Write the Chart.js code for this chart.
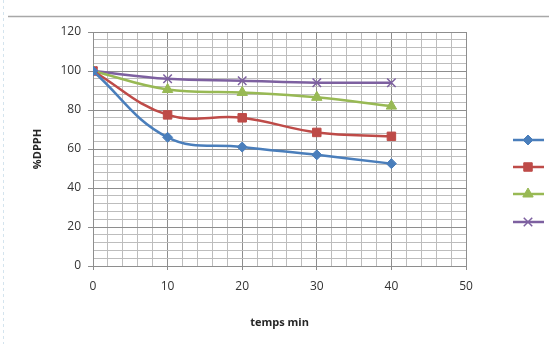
<!DOCTYPE html>
<html>
<head>
<meta charset="utf-8">
<script src="https://cdn.jsdelivr.net/npm/chart.js@4/dist/chart.umd.min.js"></script>
<style>
  html, body { margin: 0; padding: 0; background: #fff; }
  #wrap { width: 549px; height: 344px; position: relative; }
</style>
</head>
<body>
<div id="wrap"><canvas id="dpphChart" width="549" height="344"></canvas></div>
<script>
// temps (min) and %DPPH for each series
const temps = [0, 10, 20, 30, 40];
const serie1 = [100, 66, 61, 57, 52.5];
const serie2 = [100, 77.5, 76, 68.5, 66.5];
const serie3 = [100, 90.5, 89, 86.5, 82];
const serie4 = [100, 96, 95, 94, 94];

const xTicks = [0, 10, 20, 30, 40, 50];
const yTicks = [0, 20, 40, 60, 80, 100, 120];

const colors = ["#4a7ebb", "#be4b48", "#98b954", "#7d60a0"];
const styles = ["rectRot", "rect", "triangle", "crossRot"];
const radii = [5, 6, 6, 6];

function toPoints(values) {
  return temps.map((t, i) => ({ x: t, y: values[i] }));
}

const seriesList = [serie1, serie2, serie3, serie4];

const datasets = seriesList.map((vals, i) => ({
  label: "",
  data: toPoints(vals),
  borderColor: colors[i],
  backgroundColor: colors[i],
  borderWidth: 2.5,
  pointStyle: styles[i],
  pointRadius: radii[i],
  pointBorderWidth: i === 3 ? 1.5 : 1,
  tension: 0.4,
}));

// frame lines and the legend (line + marker, no text)
const decorations = {
  id: "decorations",
  beforeDraw(chart) {
    const ctx = chart.ctx;
    ctx.save();
    ctx.strokeStyle = "#a8a8a8";
    ctx.lineWidth = 1.5;
    ctx.beginPath();
    ctx.moveTo(8, 16.5);
    ctx.lineTo(549, 16.5);
    ctx.stroke();
    ctx.strokeStyle = "#d4e4ee";
    ctx.lineWidth = 1;
    ctx.setLineDash([3, 3]);
    ctx.beginPath();
    ctx.moveTo(3.5, 0);
    ctx.lineTo(3.5, 344);
    ctx.stroke();
    ctx.restore();
  },
  afterDraw(chart) {
    const ctx = chart.ctx;
    const ys = [140, 167, 194, 222];
    ctx.save();
    ys.forEach((y, i) => {
      ctx.strokeStyle = colors[i];
      ctx.lineWidth = 2.5;
      ctx.beginPath();
      ctx.moveTo(513, y);
      ctx.lineTo(544, y);
      ctx.stroke();
      ctx.fillStyle = colors[i];
      ctx.strokeStyle = colors[i];
      ctx.lineWidth = i === 3 ? 1.5 : 1;
      Chart.helpers.drawPoint(ctx, {
        pointStyle: styles[i],
        radius: radii[i],
        rotation: 0,
        borderWidth: ctx.lineWidth,
      }, 528, y);
    });
    ctx.restore();
  },
};

const isMajorX = (v) => v % 10 === 0;
const isMajorY = (v) => v % 20 === 0;

new Chart(document.getElementById("dpphChart"), {
  type: "line",
  data: { datasets },
  options: {
    responsive: false,
    animation: false,
    layout: { padding: { top: 32, right: 83, left: 0, bottom: 0 } },
    plugins: {
      legend: { display: false },
      tooltip: { enabled: false },
    },
    scales: {
      x: {
        type: "linear",
        min: 0,
        max: 50,
        afterFit(scale) { scale.height = 78; },
        afterBuildTicks(scale) {
          const t = [];
          for (let v = 0; v <= 50; v += 2) t.push({ value: v });
          scale.ticks = t;
        },
        ticks: {
          autoSkip: false,
          maxRotation: 0,
          padding: 9,
          color: "#333",
          font: { family: "Open Sans", size: 12 },
          callback: (v) => (xTicks.includes(v) ? String(v) : ""),
        },
        grid: {
          color: (c) => (isMajorX(c.tick.value) ? "#8e8e8e" : "#bdbdbd"),
          tickColor: (c) => (isMajorX(c.tick.value) ? "#8e8e8e" : "rgba(0,0,0,0)"),
          tickLength: 4,
          lineWidth: 1,
        },
        border: { color: "#8e8e8e" },
        title: {
          display: true,
          text: "temps min",
          color: "#262626",
          font: { family: "Open Sans", size: 11, weight: "bold" },
          padding: { top: 0, bottom: 15 },
        },
      },
      y: {
        min: 0,
        max: 120,
        afterFit(scale) { scale.width = 93; },
        afterBuildTicks(scale) {
          const t = [];
          for (let v = 0; v <= 120; v += 4) t.push({ value: v });
          scale.ticks = t;
        },
        ticks: {
          autoSkip: false,
          padding: 7,
          color: "#333",
          font: { family: "Open Sans", size: 12 },
          callback: (v) => (yTicks.includes(v) ? String(v) : ""),
        },
        grid: {
          color: (c) => (isMajorY(c.tick.value) ? "#8e8e8e" : "#bdbdbd"),
          tickColor: (c) => (isMajorY(c.tick.value) ? "#8e8e8e" : "rgba(0,0,0,0)"),
          tickLength: 5,
          lineWidth: 1,
        },
        border: { color: "#8e8e8e" },
        title: {
          display: true,
          text: "%DPPH",
          color: "#262626",
          font: { family: "Open Sans", size: 11, weight: "bold" },
          padding: { top: 31, bottom: 0 },
        },
      },
    },
  },
  plugins: [decorations],
});
</script>
</body>
</html>
